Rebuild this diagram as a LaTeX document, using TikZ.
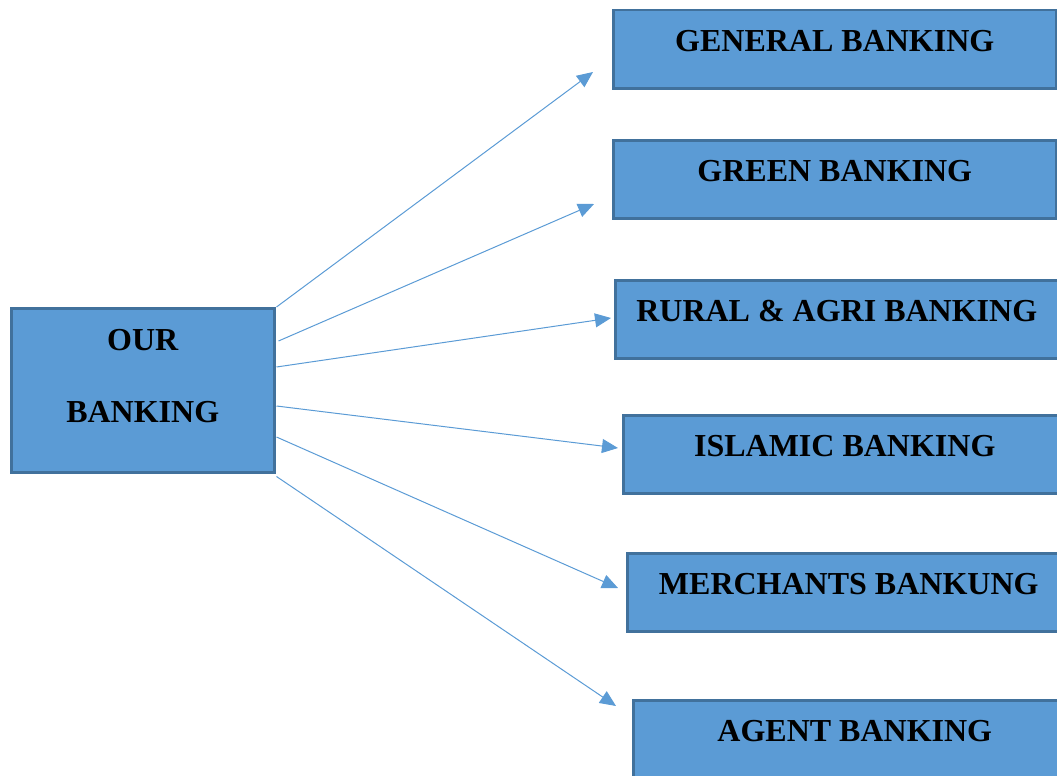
\documentclass[tikz,border=0pt]{standalone}
\usepackage{fontspec}
\setmainfont{Liberation Serif}
\usetikzlibrary{arrows.meta}
\definecolor{boxblue}{HTML}{5B9BD5}
\definecolor{boxedge}{HTML}{41719C}

\begin{document}
\begin{tikzpicture}[
  x=1pt, y=-1pt,
  box/.style={draw=boxedge, line width=2.5pt, fill=boxblue, anchor=north west, inner sep=0pt,
    minimum width=443pt, minimum height=78pt, text height=41pt, text depth=37pt,
    font=\fontsize{32}{38}\selectfont\bfseries},
  link/.style={-{Triangle[length=16pt,width=14pt]}, draw=boxblue, line width=1pt}
]
\useasboundingbox (0,0) rectangle (1057,776);
\clip (0,0) rectangle (1057,776);

% Root box
\node[box, minimum width=263pt, minimum height=164pt, align=center,
  text height=114pt, text depth=50pt, font=\fontsize{32}{72}\selectfont\bfseries]
  (our) at (10,307) {OUR\\BANKING};

% Banking services
\node[box] (general) at (612,9)   {GENERAL BANKING};
\node[box] (green)   at (612,139) {GREEN BANKING};
\node[box] (rural)   at (614,279) {RURAL \& AGRI BANKING};
\node[box] (islamic) at (622,414) {ISLAMIC BANKING};
\node[box] (merch)   at (626,552) {MERCHANTS BANKUNG};
\node[box] (agent)   at (632,699) {AGENT BANKING};

% Arrow tips stop short of the boxes
\coordinate (tGeneral) at (593,72);
\coordinate (tGreen)   at (594,204);
\coordinate (tRural)   at (611,318);
\coordinate (tIslamic) at (618,448);
\coordinate (tMerch)   at (618,588);
\coordinate (tAgent)   at (616,706);

% Links
\draw[link] ([xshift=1pt]our.north east)              -- (tGeneral);
\draw[link] ([xshift=3pt,yshift=-34pt]our.north east) -- (tGreen);
\draw[link] ([xshift=1pt,yshift=-60pt]our.north east) -- (tRural);
\draw[link] ([xshift=1pt,yshift=-99pt]our.north east) -- (tIslamic);
\draw[link] ([xshift=1pt,yshift=-130pt]our.north east) -- (tMerch);
\draw[link] ([xshift=1pt,yshift=-3pt]our.south east)  -- (tAgent);

\end{tikzpicture}
\end{document}
